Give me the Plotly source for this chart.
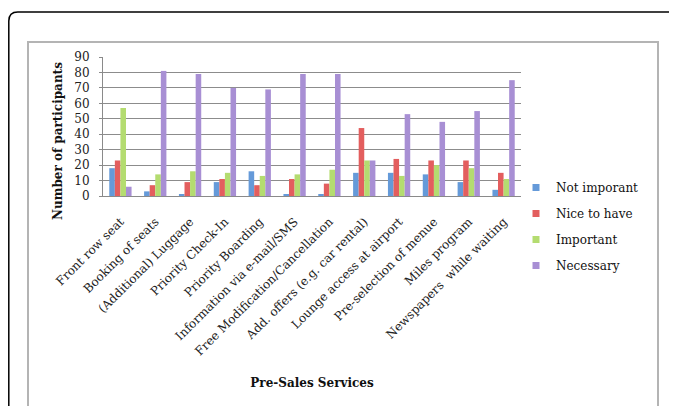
import plotly.graph_objects as go

categories = ["Front row seat", "Booking of seats", "(Additional) Luggage", "Priority Check-In",
              "Priority Boarding", "Information via e-mail/SMS", "Free Modification/Cancellation",
              "Add. offers (e.g. car rental)", "Lounge access at airport", "Pre-selection of menue",
              "Miles program", "Newspapers  while waiting"]
not_important = [18, 3, 1, 9, 16, 1, 1, 15, 15, 14, 9, 4]
nice_to_have = [23, 7, 9, 11, 7, 11, 8, 44, 24, 23, 23, 15]
important = [57, 14, 16, 15, 13, 14, 17, 23, 13, 20, 18, 11]
necessary = [6, 81, 79, 70, 69, 79, 79, 23, 53, 48, 55, 75]
series_names = ["Not imporant", "Nice to have", "Important", "Necessary"]
y_ticks = list(range(0, 100, 10))

colors = ["#659ad9", "#e35e5e", "#b4dc70", "#a88fd4"]
FONT = "DejaVu Serif"

fig = go.Figure()
all_vals = [not_important, nice_to_have, important, necessary]
for i, (name, vals) in enumerate(zip(series_names, all_vals)):
    fig.add_trace(go.Bar(x=categories, y=vals, name=name, showlegend=False,
                         marker=dict(color=colors[i], line=dict(width=0))))
# legend entries with small square keys
for i, name in enumerate(series_names):
    fig.add_trace(go.Scatter(x=[None], y=[None], mode="markers", name=name, legendgroup=str(i),
                             marker=dict(symbol="square", size=7, color=colors[i])))

# target screen pixel positions of the plot area
L, T, R, B = 103, 57, 521, 196
W, H = 677, 406
OFF = 8  # page body margin offset

def px(x):
    return (x - L) / (R - L)

def py(y):
    return (B - y) / (B - T)

r = 9
xl = 8.8
outer = (f"M {px(xl)},{py(430)} L {px(xl)},{py(12 + r)} Q {px(xl)},{py(12)} {px(xl + r)},{py(12)} "
         f"L {px(700)},{py(12)}")

fig.update_layout(
    width=W, height=H,
    margin=dict(l=L - OFF, r=W - (R - OFF), t=T - OFF, b=H - (B - OFF), autoexpand=False),
    paper_bgcolor="white", plot_bgcolor="white",
    barmode="group", bargap=0.36, bargroupgap=0.0,
    font=dict(family=FONT, size=12, color="#222"),
    showlegend=True,
    legend=dict(x=px(516), y=py(173), xanchor="left", yanchor="top",
                font=dict(family=FONT, size=12, color="#111"),
                traceorder="grouped", tracegroupgap=7,
                itemwidth=30, bgcolor="rgba(0,0,0,0)"),
    xaxis=dict(tickangle=-45, showgrid=False, showline=True, linecolor="#8a8a8a", linewidth=1,
               ticks="", ticklabelstandoff=13, tickfont=dict(family=FONT, size=12, color="#222"),
               title=dict(text="<b>Pre-Sales Services</b>", font=dict(family=FONT, size=12, color="#111"),
                          standoff=21)),
    yaxis=dict(range=[0, 90], tickvals=y_ticks, showgrid=True, gridcolor="#8c8c8c", gridwidth=1,
               showline=True, linecolor="#8a8a8a", linewidth=1, ticks="outside", ticklen=3,
               tickcolor="#8a8a8a", zeroline=False, ticklabelstandoff=7,
               tickfont=dict(family=FONT, size=12, color="#222")),
    annotations=[
        dict(text="<b>Number of participants</b>", textangle=-90, xref="paper", yref="paper",
             x=px(58), y=py(141), xanchor="center", yanchor="middle", showarrow=False,
             font=dict(family=FONT, size=12, color="#111")),
    ],
    shapes=[
        dict(type="path", xref="paper", yref="paper", path=outer, line=dict(color="black", width=1.5)),
        dict(type="rect", xref="paper", yref="paper", x0=px(28), x1=px(658), y0=py(430), y1=py(42),
             line=dict(color="#b4b4b4", width=2)),
    ],
)
fig.write_html("out.html")
